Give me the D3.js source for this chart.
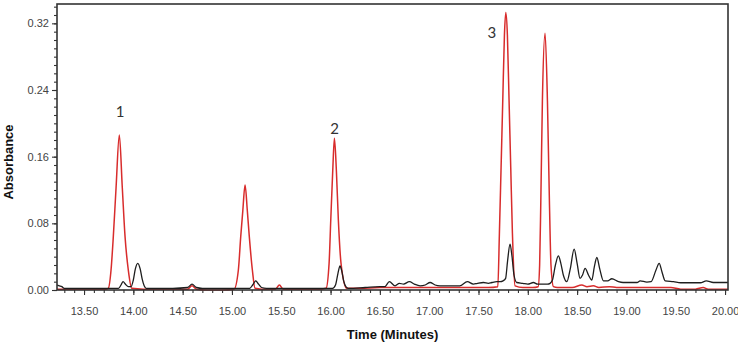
<!DOCTYPE html>
<html>
<head>
<meta charset="utf-8">
<script src="https://cdn.jsdelivr.net/npm/d3@7"></script>
<style>
  body { margin: 0; background: #fff; }
  svg { display: block; }
</style>
</head>
<body>
<div id="chart"></div>
<script>
// [retention time (min), absorbance]
const redTrace = [
  [13.226, 0.001], [13.40, 0.001], [13.60, 0.001], [13.72, 0.001],
  [13.746, 0.002], [13.774, 0.024], [13.797, 0.064], [13.825, 0.123], [13.858, 0.186],
  [13.888, 0.123], [13.916, 0.064], [13.949, 0.024], [13.984, 0.002],
  [14.10, 0.001], [14.40, 0.001], [14.55, 0.001], [14.595, 0.005], [14.64, 0.001],
  [14.75, 0.000], [14.90, 0.000],
  [15.021, 0.001], [15.065, 0.024], [15.089, 0.064], [15.11, 0.095], [15.133, 0.126],
  [15.156, 0.095], [15.176, 0.064], [15.207, 0.024], [15.234, 0.002],
  [15.30, 0.001], [15.44, 0.001], [15.481, 0.006], [15.52, 0.001], [15.70, 0.001], [15.90, 0.001],
  [15.954, 0.002], [15.985, 0.032], [16.002, 0.084], [16.022, 0.143], [16.039, 0.182],
  [16.059, 0.143], [16.079, 0.084], [16.106, 0.032], [16.164, 0.002],
  [16.30, 0.002], [16.50, 0.003], [16.90, 0.003], [17.30, 0.003], [17.60, 0.003],
  [17.696, 0.004], [17.712, 0.068], [17.729, 0.147], [17.746, 0.227], [17.763, 0.306], [17.777, 0.333],
  [17.793, 0.306], [17.81, 0.227], [17.827, 0.147], [17.844, 0.068], [17.871, 0.005],
  [17.95, 0.003], [18.05, 0.003],
  [18.105, 0.004], [18.12, 0.030], [18.132, 0.107], [18.148, 0.227], [18.175, 0.308],
  [18.199, 0.227], [18.219, 0.107], [18.235, 0.030], [18.26, 0.004],
  [18.30, 0.003], [18.45, 0.003], [18.548, 0.006], [18.60, 0.004], [18.665, 0.005], [18.72, 0.003],
  [18.828, 0.004], [18.90, 0.003], [19.20, 0.003], [19.45, 0.003], [19.55, 0.001], [19.70, 0.001],
  [19.778, 0.003], [19.83, 0.001], [20.03, 0.001]
]

const blackTrace = [
  [13.226, 0.006], [13.25, 0.005], [13.275, 0.004], [13.30, 0.002], [13.50, 0.002], [13.70, 0.002],
  [13.85, 0.002], [13.875, 0.006], [13.896, 0.010], [13.92, 0.007], [13.95, 0.004], [13.977, 0.004],
  [14.00, 0.012], [14.02, 0.025], [14.045, 0.032], [14.07, 0.025], [14.09, 0.013], [14.11, 0.005],
  [14.13, 0.002], [14.40, 0.002], [14.55, 0.003], [14.595, 0.007], [14.64, 0.003], [14.70, 0.002],
  [15.00, 0.002], [15.18, 0.002], [15.21, 0.006], [15.241, 0.011], [15.27, 0.007], [15.30, 0.003],
  [15.35, 0.002], [15.60, 0.002], [15.90, 0.002], [16.02, 0.002], [16.05, 0.006], [16.075, 0.020],
  [16.096, 0.029], [16.115, 0.022], [16.135, 0.010], [16.155, 0.004], [16.18, 0.002],
  [16.35, 0.003], [16.50, 0.004], [16.55, 0.004], [16.596, 0.010], [16.654, 0.005], [16.698, 0.008],
  [16.74, 0.007], [16.799, 0.010], [16.85, 0.007], [16.908, 0.005], [16.96, 0.006], [17.009, 0.009],
  [17.06, 0.006], [17.11, 0.005], [17.31, 0.005], [17.387, 0.010], [17.448, 0.007], [17.489, 0.008],
  [17.55, 0.009], [17.60, 0.008], [17.635, 0.009], [17.686, 0.010], [17.72, 0.010], [17.749, 0.011],
  [17.775, 0.014], [17.795, 0.035], [17.82, 0.055], [17.84, 0.040], [17.86, 0.018], [17.888, 0.009],
  [17.95, 0.008], [18.00, 0.007], [18.057, 0.009], [18.10, 0.007], [18.20, 0.007], [18.226, 0.008],
  [18.25, 0.012], [18.28, 0.030], [18.31, 0.041], [18.335, 0.032], [18.36, 0.018], [18.396, 0.010],
  [18.43, 0.025], [18.47, 0.049], [18.50, 0.032], [18.53, 0.014], [18.555, 0.018], [18.581, 0.026],
  [18.615, 0.018], [18.649, 0.012], [18.675, 0.028], [18.70, 0.039], [18.73, 0.025], [18.767, 0.011],
  [18.81, 0.011], [18.852, 0.0135], [18.919, 0.010], [18.966, 0.009], [19.108, 0.009], [19.139, 0.011],
  [19.207, 0.0095], [19.25, 0.010], [19.30, 0.024], [19.332, 0.032], [19.36, 0.022], [19.393, 0.011],
  [19.477, 0.010], [19.55, 0.0087], [19.75, 0.0087], [19.81, 0.011], [19.881, 0.009], [20.03, 0.009]
]

const xTicks = [13.5, 14.0, 14.5, 15.0, 15.5, 16.0, 16.5, 17.0, 17.5, 18.0, 18.5, 19.0, 19.5, 20.0]
const yTicks = [0, 0.08, 0.16, 0.24, 0.32]

const peakLabels = ['1', '2', '3']
const peakLabelTimes = [13.865, 16.041, 17.635]
const peakLabelValues = [0.2076, 0.1872, 0.303]

const margin = {top: 4, right: 10, bottom: 54, left: 57},
  width = 671,
  height = 286

const xScale = d3.scaleLinear()
  .domain([13.226, 20.03])
  .range([0, width])
const yScale = d3.scaleLinear()
  .domain([0, 0.3432])
  .range([height, 0])

const svg = d3.select('#chart').append('svg')
  .attr('width', width + margin.left + margin.right)
  .attr('height', height + margin.top + margin.bottom)
  .style('font-family', '"Liberation Sans", Arial, sans-serif')

const group = svg.append('g')
  .attr('transform', `translate(${margin.left}, ${margin.top})`)

group.append('clipPath').attr('id', 'plot-clip')
  .append('rect').attr('width', width).attr('height', height + 2)

// minor ticks every 0.1 min / 0.01 AU
const xMinor = d3.range(133, 201).map(d => d / 10)
const yMinor = d3.range(0, 35).map(d => d / 100)

group.append('g')
  .attr('transform', `translate(0, ${height})`)
  .call(d3.axisBottom(xScale).tickValues(xMinor).tickSize(3).tickFormat(''))
group.append('g')
  .call(d3.axisLeft(yScale).tickValues(yMinor).tickSize(3).tickFormat(''))

const xAxis = d3.axisBottom(xScale)
  .tickValues(xTicks)
  .tickSize(5)
  .tickPadding(12)
  .tickFormat(d3.format('.2f'))
const yAxis = d3.axisLeft(yScale)
  .tickValues(yTicks)
  .tickSize(5)
  .tickPadding(3)
  .tickFormat(d3.format('.2f'))

group.append('g')
  .attr('class', 'x axis')
  .attr('transform', `translate(0, ${height})`)
  .call(xAxis)
group.append('g')
  .attr('class', 'y axis')
  .call(yAxis)

group.selectAll('.domain').remove()
group.selectAll('.tick line').attr('stroke', '#333').attr('stroke-width', 1.1)
group.selectAll('.tick text')
  .style('font-size', '11px')
  .style('fill', '#444')

const line = d3.line()
  .x(d => xScale(d[0]))
  .y(d => yScale(d[1]))
  .curve(d3.curveMonotoneX)

const traces = group.append('g').attr('clip-path', 'url(#plot-clip)')
traces.append('path')
  .datum(redTrace)
  .attr('d', line)
  .attr('fill', 'none')
  .attr('stroke', '#d82c2c')
  .attr('stroke-width', 1.5)
traces.append('path')
  .datum(blackTrace)
  .attr('d', line)
  .attr('fill', 'none')
  .attr('stroke', '#1e1e1e')
  .attr('stroke-width', 1.3)

// frame
group.append('rect')
  .attr('width', width)
  .attr('height', height)
  .attr('fill', 'none')
  .attr('stroke', '#333')
  .attr('stroke-width', 1.6)

group.selectAll('.peak-label')
  .data(peakLabels)
  .enter().append('text')
  .attr('class', 'peak-label')
  .attr('x', (d, i) => xScale(peakLabelTimes[i]))
  .attr('y', (d, i) => yScale(peakLabelValues[i]))
  .style('text-anchor', 'middle')
  .style('font-family', 'Lato, "Open Sans", sans-serif')
  .style('font-size', '15px')
  .style('fill', '#333')
  .text(d => d)

svg.append('text')
  .attr('transform', `translate(13, ${margin.top + 158}) rotate(-90)`)
  .style('text-anchor', 'middle')
  .style('font-size', '13px')
  .style('font-weight', 'bold')
  .style('fill', '#111')
  .text('Absorbance')

svg.append('text')
  .attr('x', margin.left + width / 2)
  .attr('y', 339)
  .style('text-anchor', 'middle')
  .style('font-size', '13px')
  .style('font-weight', 'bold')
  .style('fill', '#111')
  .text('Time (Minutes)')
</script>
</body>
</html>
